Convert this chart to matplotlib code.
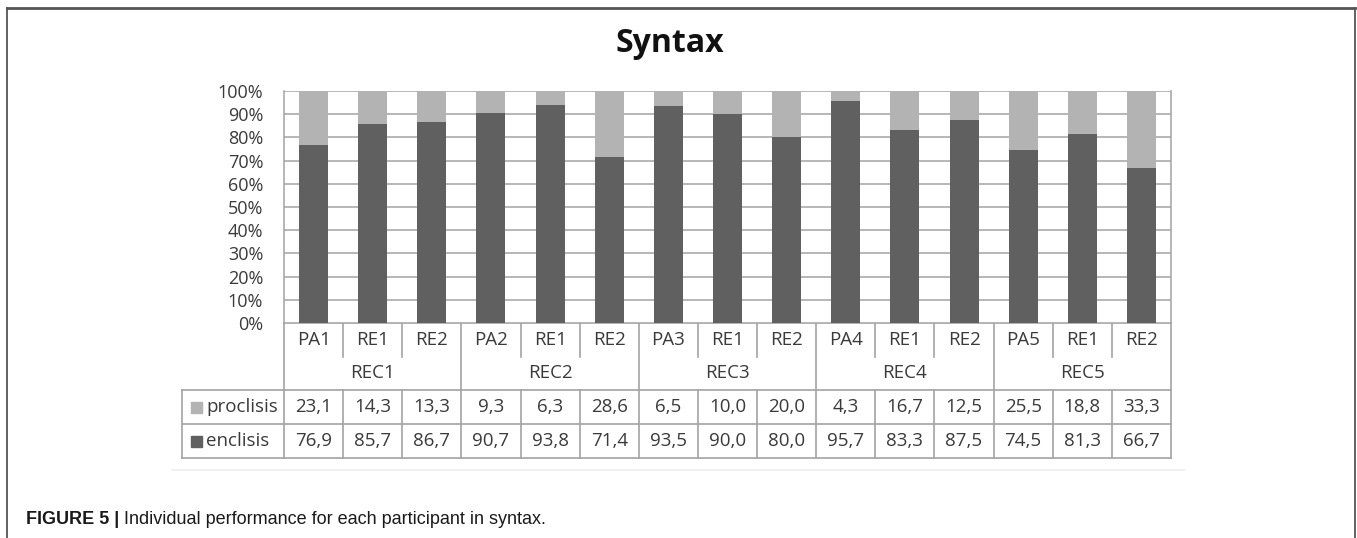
import matplotlib
matplotlib.use("Agg")
import matplotlib.pyplot as plt
from matplotlib.patches import Rectangle
from matplotlib.lines import Line2D

# ---- data ----
groups = ["REC1", "REC2", "REC3", "REC4", "REC5"]
participants = ["PA1", "RE1", "RE2", "PA2", "RE1", "RE2", "PA3", "RE1", "RE2",
                "PA4", "RE1", "RE2", "PA5", "RE1", "RE2"]
proclisis = [23.1, 14.3, 13.3, 9.3, 6.3, 28.6, 6.5, 10.0, 20.0,
             4.3, 16.7, 12.5, 25.5, 18.8, 33.3]
enclisis = [76.9, 85.7, 86.7, 90.7, 93.8, 71.4, 93.5, 90.0, 80.0,
            95.7, 83.3, 87.5, 74.5, 81.3, 66.7]
yticks = list(range(0, 101, 10))

C_ENC = "#606060"
C_PRO = "#b3b3b3"
C_GRID = "#a3a3a3"
C_TXT = "#3a3a3a"
SANS = ["Open Sans", "DejaVu Sans"]

W, H = 1357, 538
fig = plt.figure(figsize=(W / 100, H / 100), dpi=100)

# overlay in pixel coordinates (y downward)
ov = fig.add_axes([0, 0, 1, 1])
ov.set_xlim(0, W)
ov.set_ylim(H, 0)
ov.axis("off")

# plot area in pixels
L, R, T, B = 284, 1171, 91, 323
ax = fig.add_axes([L / W, 1 - B / H, (R - L) / W, (B - T) / H])
n = len(participants)
x = list(range(n))
ax.bar(x, enclisis, width=0.49, color=C_ENC, zorder=3)
ax.bar(x, proclisis, bottom=enclisis, width=0.49, color=C_PRO, zorder=3)
ax.set_xlim(-0.5, n - 0.5)
ax.set_ylim(0, 100)
ax.set_yticks(yticks)
ax.set_yticklabels([f"{v}%" for v in yticks], fontsize=13, color=C_TXT,
                   family=SANS)
ax.tick_params(axis="y", length=0, pad=15)
ax.set_xticks([])
ax.yaxis.grid(True, color=C_GRID, linewidth=1.1, zorder=0)
for s in ["top", "bottom"]:
    ax.spines[s].set_visible(False)
for s in ["left", "right"]:
    ax.spines[s].set_color(C_GRID)
    ax.spines[s].set_linewidth(1.1)

# table below the plot
slot = (R - L) / n
xs = [L + i * slot for i in range(n + 1)]
y_sub, y_grp, y_pro, y_enc, y_end = 323, 357, 390, 424, 458
tab_left = 182
lw = 1.2
font_t = dict(fontsize=13.5, color=C_TXT, family=SANS, va="center")

def hline(y, x0, x1, color=C_GRID):
    ov.add_line(Line2D([x0, x1], [y, y], color=color, lw=lw))

def vline(xp, y0, y1):
    ov.add_line(Line2D([xp, xp], [y0, y1], color=C_GRID, lw=lw))

hline(y_sub, L, R)
hline(y_pro, tab_left, R)
hline(y_enc, tab_left, R)
hline(y_end, tab_left, R)
vline(tab_left, y_pro, y_end)
for i, xp in enumerate(xs):
    if i % 3 == 0:
        vline(xp, y_sub, y_end)
    else:
        vline(xp, y_sub, y_grp)
        vline(xp, y_pro, y_end)

for i, lab in enumerate(participants):
    cx = (xs[i] + xs[i + 1]) / 2
    ov.text(cx, (y_sub + y_grp) / 2, lab, ha="center", **font_t)
    ov.text(cx, (y_pro + y_enc) / 2, f"{proclisis[i]:.1f}".replace(".", ","),
            ha="center", **font_t)
    ov.text(cx, (y_enc + y_end) / 2, f"{enclisis[i]:.1f}".replace(".", ","),
            ha="center", **font_t)
for g, name in enumerate(groups):
    cx = (xs[3 * g] + xs[3 * g + 3]) / 2
    ov.text(cx, (y_grp + y_pro) / 2, name, ha="center", **font_t)

# legend keys in the table's first column
for yy, col, name in [((y_pro + y_enc) / 2, C_PRO, "proclisis"),
                      ((y_enc + y_end) / 2, C_ENC, "enclisis")]:
    ov.add_patch(Rectangle((191, yy - 5.5), 11, 11, color=col))
    ov.text(206, yy, name, ha="left", **font_t)

# faint line under the chart image
hline(470, 172, 1185, color="#eeeeee")

# title
ov.text(670, 52, "Syntax", ha="center", va="baseline", fontsize=23,
        fontweight="bold", color="#111111", family=SANS)

# outer frame
ov.add_line(Line2D([7, 1355], [8, 8], color="#555555", lw=2))
ov.add_line(Line2D([7, 7], [8, H], color="#555555", lw=1.3))
ov.add_line(Line2D([1355, 1355], [8, H], color="#555555", lw=1.3))

# caption
cap_font = ["Liberation Sans", "DejaVu Sans"]
t1 = ov.text(26, 524, "FIGURE 5 |", ha="left", va="baseline", fontsize=13,
             fontweight="bold", color="#1a1a1a", family=cap_font)
fig.canvas.draw()
bb = t1.get_window_extent()
ov.text(bb.x1 + 5, 524, "Individual performance for each participant in syntax.",
        ha="left", va="baseline", fontsize=13, color="#1a1a1a", family=cap_font)

fig.savefig("out.png", dpi=100)
